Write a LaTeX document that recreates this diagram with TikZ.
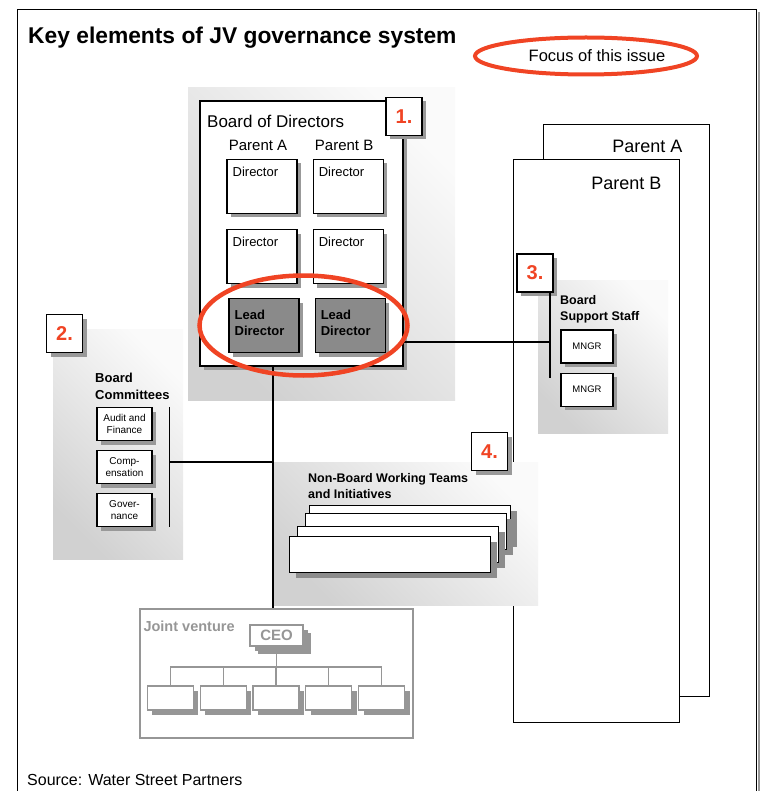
\documentclass[tikz,border=0pt]{standalone}
\usepackage{fontspec}
\setmainfont{Liberation Sans}
\usetikzlibrary{shapes.geometric, shadows, positioning}
\definecolor{accent}{RGB}{240,68,36}
\definecolor{seatgray}{RGB}{138,138,138}
\definecolor{jvgray}{RGB}{150,150,150}
\tikzstyle{plain} = [rectangle, draw=black, fill=white, line width=1.1pt, inner sep=0pt]
\tikzstyle{card} = [plain, drop shadow={shadow xshift=4pt, shadow yshift=-4pt, fill=black!40, opacity=1}]
\tikzstyle{seat} = [card, minimum width=70pt, minimum height=54pt]
\tikzstyle{director} = [seat, label={[anchor=north west, xshift=6pt, yshift=-8pt, inner sep=0pt, font=\fontsize{13}{13}\selectfont]north west:Director}]
\tikzstyle{lead} = [seat, fill=seatgray]
\tikzstyle{leadtext} = [anchor=north west, xshift=6pt, yshift=-12pt, inner sep=0pt, align=left, font=\fontsize{13}{16}\selectfont\bfseries]
\tikzstyle{numbox} = [card, minimum width=36pt, minimum height=38pt, text=accent, font=\fontsize{20}{20}\selectfont\bfseries]
\tikzstyle{combox} = [card, minimum width=55pt, minimum height=33pt, align=center, font=\fontsize{10}{12}\selectfont]
\tikzstyle{mngrbox} = [card, minimum width=52pt, minimum height=33pt, font=\fontsize{9.5}{9.5}\selectfont]
\tikzstyle{teambox} = [plain, minimum width=201pt, minimum height=36pt, drop shadow={shadow xshift=6pt, shadow yshift=-5pt, fill=black!45, opacity=1}]
\tikzstyle{parent} = [plain, anchor=north west, minimum width=166pt]
\tikzstyle{ring} = [ellipse, draw=accent, line width=4.5pt, inner sep=0pt]
\tikzstyle{panel} = [left color=black!18, right color=black!2, shading angle=135]
\tikzstyle{jvunit} = [draw=jvgray, fill=white, line width=1.2pt, minimum width=46pt, minimum height=24pt, drop shadow={shadow xshift=5pt, shadow yshift=-5pt, fill=jvgray, opacity=1}]
\tikzstyle{jvline} = [draw=jvgray, line width=1.2pt]
\tikzstyle{link} = [line width=1.1pt]

\begin{document}
\begin{tikzpicture}[x=1pt, y=-1pt, node distance=15pt]
\useasboundingbox (0,0) rectangle (761,791);
% page frame
\draw[black!40, line width=2pt] (758.5,12) -- (758.5,791);
\draw[line width=1pt] (17,791) -- (17,10) -- (756,10) -- (756,791);

\node (title) [anchor=base west, inner sep=0pt, font=\fontsize{22.8}{22.8}\selectfont\bfseries] at (28,43.5) {Key elements of JV governance system};
\node (focusring) [ring, line width=4pt, minimum width=222pt, minimum height=37pt] at (586,56) {};
\node (focus) [anchor=base, font=\fontsize{16.5}{16.5}\selectfont] at (597,61.5) {Focus of this issue};

% parents
\node (parA) [parent, minimum height=572pt] at (543,124) {};
\node (parAname) [anchor=base east, font=\fontsize{18}{18}\selectfont] at (686,153) {Parent A};
\node (parB) [parent, minimum height=563pt] at (513,159) {};
\node (parBname) [anchor=base east, font=\fontsize{18}{18}\selectfont] at (665,190) {Parent B};

% shaded panels
\path[panel] (188,88) rectangle (455,400);
\path[panel] (53,329) rectangle (183,559);
\path[panel] (538,280) rectangle (668,433);
\path[panel] (273,462) rectangle (538,605);

% 1. board
\node (board) [card, minimum width=203pt, minimum height=265pt] at (301.5,233.5) {};
\node (boardname) [anchor=base west, inner sep=0pt, font=\fontsize{17}{17}\selectfont] at (207,128) {Board of Directors};
\node (dirA1) [director] at (262,186.5) {};
\node (dirB1) [director, right=of dirA1] {};
\node (dirA2) [director, below=of dirA1] {};
\node (dirB2) [director, right=of dirA2] {};
\node (leadA) [lead, below=14pt of dirA2, xshift=2pt, label={[leadtext]north west:Lead\\Director}] {};
\node (leadB) [lead, right=of leadA, label={[leadtext]north west:Lead\\Director}] {};
\node (colA) [above=5pt of dirA1, xshift=-4pt, font=\fontsize{15}{15}\selectfont] {Parent A};
\node (colB) [above=5pt of dirB1, xshift=-4pt, font=\fontsize{15}{15}\selectfont] {Parent B};
\node (num1) [numbox] at (404,116.5) {1.};

% 2. committees
\node (num2) [numbox] at (64.5,333.5) {2.};
\node (comname) [anchor=north west, align=left, inner sep=0pt, font=\fontsize{13}{17}\selectfont\bfseries] at (95,372.5) {Board\\Committees};
\node (audit) [combox] at (124.5,424) {Audit and\\Finance};
\node (comp) [combox, below=9pt of audit] {Comp-\\ensation};
\node (gov) [combox, below=9pt of comp] {Gover-\\nance};

% 3. support staff
\node (num3) [numbox] at (535,273) {3.};
\node (staffname) [anchor=north west, align=left, inner sep=0pt, font=\fontsize{12.5}{16.5}\selectfont\bfseries] at (560,295) {Board\\Support Staff};
\node (mngr1) [mngrbox] at (587,346.5) {MNGR};
\node (mngr2) [mngrbox, below=9pt of mngr1] {MNGR};

% 4. working teams
\node (teamname) [anchor=north west, align=left, inner sep=0pt, font=\fontsize{12.5}{16}\selectfont\bfseries] at (308,473) {Non-Board Working Teams\\and Initiatives};
\foreach \x/\y [count=\i] in {309/505, 305/513, 297/526, 289/536}
  \node (team\i) [teambox, anchor=north west] at (\x,\y) {};
\node (num4) [numbox] at (489.5,451.5) {4.};

% joint venture
\node (jv) [draw=jvgray, line width=1.3pt, minimum width=273pt, minimum height=129pt] at (276.5,673.5) {};
\node (jvname) [anchor=west, text=jvgray, font=\fontsize{14.5}{14.5}\selectfont\bfseries] at (140,626) {Joint venture};
\node (ceo) [jvunit, minimum width=53pt, minimum height=21pt, text=jvgray, font=\fontsize{15}{15}\selectfont\bfseries, drop shadow={shadow xshift=8pt, shadow yshift=-8pt, fill=jvgray, opacity=1}] at (276.5,635.5) {CEO};
\foreach \i in {1,...,5}
  \node (unit\i) [jvunit] at (170.3+52.8*\i-52.8,698) {};

% connectors
\coordinate (trunk) at (273,462);
\coordinate (combar) at (169.5,462);
\coordinate (staffbar) at (550,342);
\coordinate (jvbus) at (276.5,667);
\draw[link] (board.south -| trunk) -- (jv.north -| trunk);
\draw[link] (combar |- audit.north) -- (combar |- gov.south);
\draw[link] (combar) -- (trunk);
\draw[link] (staffbar |- num3.south) -- (550,378);
\draw[link] (board.east |- staffbar) -- (staffbar);
\draw[jvline] (ceo.south) -- (jvbus);
\draw[jvline] (unit1.north |- jvbus) -- (unit5.north |- jvbus);
\foreach \i in {1,...,5}
  \draw[jvline] (unit\i.north) -- (unit\i.north |- jvbus);

\node (leadring) [ring, minimum width=208pt, minimum height=100pt] at (303.5,325.5) {};

\node (source) [anchor=base west, inner sep=0pt, font=\fontsize{16}{16}\selectfont] at (27,785) {Source: Water Street Partners};
\end{tikzpicture}
\end{document}
